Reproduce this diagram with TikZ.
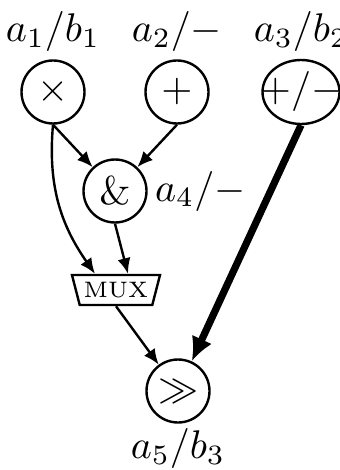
\documentclass[tikz,border=0pt]{standalone}
\usetikzlibrary{arrows.meta,shapes.geometric,positioning}

\begin{document}
\begin{tikzpicture}[->,>={Latex[length=3.9pt,width=3.3pt]},semithick,x=0.25pt,y=0.25pt,node distance=31pt]
    \tikzset{
      op/.style={draw,circle,minimum size=15.75pt,inner sep=0pt},
      mux/.style={draw,trapezium,trapezium stretches=true,shape border rotate=180,
        trapezium left angle=72,trapezium right angle=72,
        minimum width=20.5pt,minimum height=7.5pt,inner sep=1pt,font=\fontsize{5.6}{6}\selectfont},
      every label/.style={label distance=-1.75pt}
    }
    \useasboundingbox (0,0) rectangle (340,-470);
    \node[op,label=above:$a_1/b_1$] (mul) at (53,-92) {$\times$};
    \node[op,label=above:$a_2/-$] (add) [right of=mul] {$+$};
    \node[op,ellipse,minimum width=19.25pt,minimum height=16pt,label=above:$a_3/b_2$] (addsub) [right of=add] {\makebox[0pt]{$+/-$}};
    \node[op,label={right:$a_4/-$}] (and) at (115,-191) {$\&$};
    \node[mux] (mux) at (116,-290) {MUX};
    \node[op,label={[label distance=-2.5pt]below:$a_5/b_3$}] (shr) at (178,-391) {$\gg$};
    \path
    (mul.south) edge (and)
    (add.south) edge (and)
    (mul.south) edge [out=-95,in=125] ([xshift=-5.25pt]mux.north)
    (and.south) edge ([xshift=3pt]mux.north)
    (mux.south) edge (shr)
    (addsub.south) edge [line width=1.8pt,>={Latex[length=6pt,width=5.5pt]}] (shr)
;
\end{tikzpicture}
\end{document}
